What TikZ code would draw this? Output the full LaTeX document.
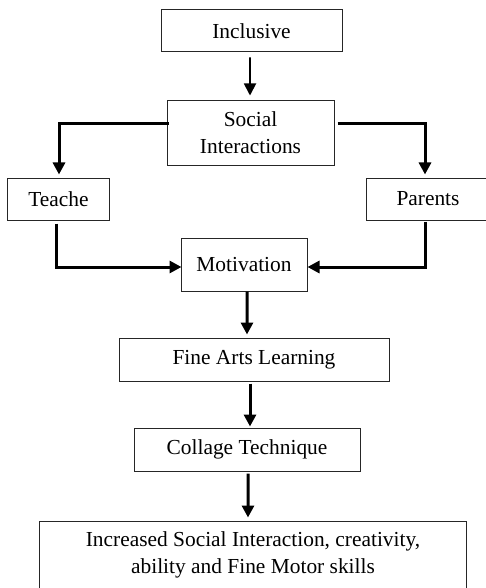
\documentclass[tikz,border=0pt]{standalone}
\usepackage{fontspec}
\setmainfont{Liberation Serif}
\usetikzlibrary{arrows.meta}
\begin{document}
\begin{tikzpicture}[x=1bp,y=-1bp,
  box/.style={draw=black!85,line width=1bp,inner sep=0pt,align=center,
    font=\fontsize{21.4bp}{27bp}\selectfont},
  thickarrow/.style={line width=3bp,-{Triangle[length=12bp,width=12bp]}},
  thinarrow/.style={line width=1.8bp,-{Triangle[length=12bp,width=12bp]}}]
\useasboundingbox (0,0) rectangle (486,588);
\clip (0,0) rectangle (486,588);
\node[box,minimum width=181bp,minimum height=42bp] (inc) at (251.5,31) {Inclusive};
\node[box,minimum width=167bp,minimum height=64bp] (soc) at (250.5,133) {Social\\Interactions};
\node[box,minimum width=101bp,minimum height=42bp] (tea) at (58.5,199) {Teache};
\node[box,minimum width=124bp,minimum height=42bp] (par) at (428,199) {Parents};
\node[box,minimum width=126bp,minimum height=53bp] (mot) at (244,264.5) {Motivation};
\node[box,minimum width=270bp,minimum height=43bp] (fine) at (254,359.5) {Fine Arts Learning};
\node[box,minimum width=226bp,minimum height=43bp] (col) at (247,449.5) {Collage Technique};
\node[box,minimum width=426bp,minimum height=80bp] (fin) at (253,561) {};
\node[box,draw=none] (fintxt) at (253,555) {Increased Social Interaction, creativity,\\ability and Fine Motor skills};
\draw[thinarrow,shorten <=5bp,shorten >=5bp] ([xshift=-1.5bp]inc.south) -- ([xshift=-0.5bp]soc.north);
\draw[thickarrow,shorten >=3bp] ([yshift=9bp,xshift=2bp]soc.west) -| ([xshift=0.5bp]tea.north);
\draw[thickarrow,shorten >=3bp] ([yshift=9bp,xshift=3bp]soc.east) -| ([xshift=-3bp]par.north);
\draw[thickarrow,shorten <=3bp] ([xshift=-2.5bp]tea.south) |- ([yshift=-2.5bp,xshift=1bp]mot.west);
\draw[thickarrow,shorten <=1bp] ([xshift=-3bp]par.south) |- ([yshift=-2.5bp]mot.east);
\draw[thickarrow,shorten >=3bp] ([xshift=3bp]mot.south) -- ([xshift=-7bp]fine.north);
\draw[thickarrow,shorten <=2bp,shorten >=1bp] ([xshift=3bp]col.north |- fine.south) -- ([xshift=3bp]col.north);
\draw[thickarrow,shorten <=2bp,shorten >=3bp] ([xshift=1bp]col.south) -- ([xshift=-5bp]fin.north);
\end{tikzpicture}
\end{document}
